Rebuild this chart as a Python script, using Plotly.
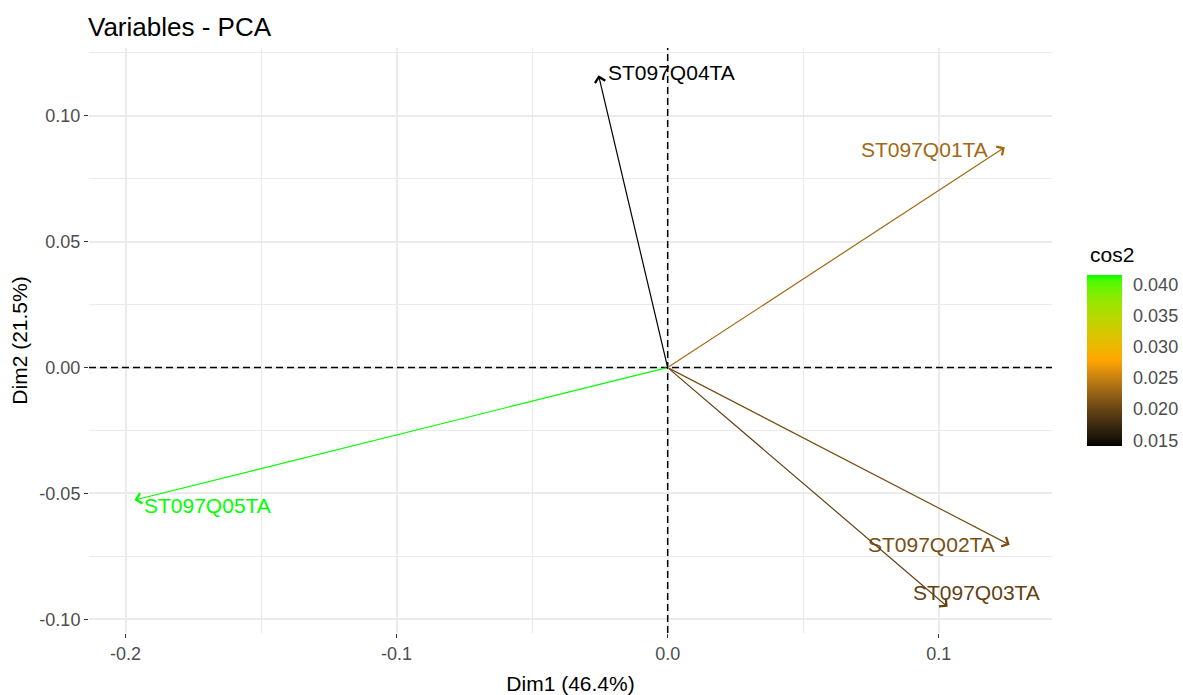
import plotly.graph_objects as go
from plotly.colors import sample_colorscale

# PCA variable coordinates on the first two dimensions
variables = ["ST097Q01TA", "ST097Q02TA", "ST097Q03TA", "ST097Q04TA", "ST097Q05TA"]
dim1 = [0.1244, 0.1262, 0.1033, -0.0255, -0.1967]
dim2 = [0.0875, -0.0704, -0.0950, 0.1161, -0.0526]
cos2 = [0.0231, 0.0209, 0.0197, 0.0141, 0.0415]

x_ticks = [-0.2, -0.1, 0.0, 0.1]
x_ticktext = ["-0.2", "-0.1", "0.0", "0.1"]
y_ticks = [-0.10, -0.05, 0.00, 0.05, 0.10]
y_ticktext = ["-0.10", "-0.05", "0.00", "0.05", "0.10"]
cb_ticks = [0.015, 0.020, 0.025, 0.030, 0.035, 0.040]
cb_ticktext = ["0.015", "0.020", "0.025", "0.030", "0.035", "0.040"]

# label placement relative to each arrow tip (anchor, px shift x, px shift y)
label_pos = {
    "ST097Q01TA": ("right", -15, -2),
    "ST097Q02TA": ("right", -13, 0),
    "ST097Q03TA": ("left", -37, 14),
    "ST097Q04TA": ("left", 7, 3),
    "ST097Q05TA": ("left", 7, -5),
}

FONT = "Arial, 'Liberation Sans', sans-serif"


# --- gradient black -> orange -> green, interpolated in CIE Lab space ---
def _srgb_to_lin(c):
    c = c / 255.0
    return c / 12.92 if c <= 0.04045 else ((c + 0.055) / 1.055) ** 2.4


def _lin_to_srgb(c):
    c = min(max(c, 0.0), 1.0)
    v = 12.92 * c if c <= 0.0031308 else 1.055 * c ** (1 / 2.4) - 0.055
    return round(v * 255)


_WHITE = (0.95047, 1.0, 1.08883)


def _f(t):
    return t ** (1 / 3) if t > (6 / 29) ** 3 else t / (3 * (6 / 29) ** 2) + 4 / 29


def _finv(t):
    return t ** 3 if t > 6 / 29 else 3 * (6 / 29) ** 2 * (t - 4 / 29)


def rgb_to_lab(rgb):
    r, g, b = (_srgb_to_lin(v) for v in rgb)
    x = 0.4124 * r + 0.3576 * g + 0.1805 * b
    y = 0.2126 * r + 0.7152 * g + 0.0722 * b
    z = 0.0193 * r + 0.1192 * g + 0.9505 * b
    fx, fy, fz = _f(x / _WHITE[0]), _f(y / _WHITE[1]), _f(z / _WHITE[2])
    return (116 * fy - 16, 500 * (fx - fy), 200 * (fy - fz))


def lab_to_rgb(lab):
    L, a, b = lab
    fy = (L + 16) / 116
    fx, fz = fy + a / 500, fy - b / 200
    x, y, z = _WHITE[0] * _finv(fx), _WHITE[1] * _finv(fy), _WHITE[2] * _finv(fz)
    r = 3.2406 * x - 1.5372 * y - 0.4986 * z
    g = -0.9689 * x + 1.8758 * y + 0.0415 * z
    bb = 0.0557 * x - 0.2040 * y + 1.0570 * z
    return tuple(_lin_to_srgb(v) for v in (r, g, bb))


anchors = [(0, 0, 0), (255, 165, 0), (0, 255, 0)]
anchor_labs = [rgb_to_lab(c) for c in anchors]
colorscale = []
n_steps = 40
for i in range(n_steps + 1):
    t = i / n_steps
    seg = 0 if t < 0.5 else 1
    u = (t - 0.5 * seg) / 0.5
    la, lb = anchor_labs[seg], anchor_labs[seg + 1]
    lab = tuple(la[k] + (lb[k] - la[k]) * u for k in range(3))
    r, g, b = lab_to_rgb(lab)
    colorscale.append([t, f"rgb({r},{g},{b})"])

cmin, cmax = min(cos2), max(cos2)
norm = [(c - cmin) / (cmax - cmin) for c in cos2]
colors = sample_colorscale(colorscale, norm)

fig = go.Figure()

# invisible trace carrying the cos2 colour bar
fig.add_trace(go.Scatter(
    x=dim1, y=dim2, mode="markers",
    marker=dict(
        size=0.1, opacity=0, color=cos2, colorscale=colorscale,
        cmin=cmin, cmax=cmax, showscale=True,
        colorbar=dict(
            tickvals=cb_ticks, ticktext=cb_ticktext,
            tickfont=dict(size=18, color="#4D4D4D", family=FONT),
            ticks="outside", ticklen=8, tickcolor="rgba(255,255,255,0)", tickwidth=1,
            thickness=35, thicknessmode="pixels",
            len=171, lenmode="pixels",
            x=1.0363, xanchor="left", xref="paper",
            y=0.4658, yanchor="middle", yref="paper",
            xpad=0, ypad=0, outlinewidth=0,
        ),
    ),
    hoverinfo="skip", showlegend=False,
))

# colour bar heading
fig.add_annotation(
    x=1.0374, y=0.6462, xref="paper", yref="paper", text="cos2", showarrow=False,
    xanchor="left", yanchor="middle", font=dict(size=21, color="#000000", family=FONT),
)

# arrows from the origin to each variable
for name, x, y, col in zip(variables, dim1, dim2, colors):
    fig.add_annotation(
        x=x, y=y, ax=0, ay=0, xref="x", yref="y", axref="x", ayref="y",
        text="", showarrow=True, arrowhead=4, arrowsize=1.7, arrowwidth=1.2,
        arrowcolor=col, standoff=0, startstandoff=0,
    )
    anchor, sx, sy = label_pos[name]
    fig.add_annotation(
        x=x, y=y, xref="x", yref="y", text=name, showarrow=False,
        xanchor=anchor, yanchor="middle", xshift=sx, yshift=sy,
        font=dict(size=21, color=col, family=FONT),
    )

# dashed reference lines through the origin
fig.add_hline(y=0, line=dict(color="#000000", width=1.5, dash="7px,4px"), layer="above")
fig.add_vline(x=0, line=dict(color="#000000", width=1.5, dash="7px,4px"), layer="above")

axis_common = dict(
    showline=False, zeroline=False,
    gridcolor="#EBEBEB", gridwidth=1.6,
    ticks="outside", ticklen=4, tickwidth=1.2, tickcolor="#333333",
    tickfont=dict(size=18, color="#4D4D4D", family=FONT),
)

fig.update_layout(
    width=1183, height=695,
    margin=dict(l=89, r=131, t=48, b=62, autoexpand=False),
    paper_bgcolor="#FFFFFF", plot_bgcolor="#FFFFFF",
    font=dict(family=FONT, color="#000000"),
    title=dict(text="Variables - PCA", xref="container", yref="container",
               x=88 / 1183, xanchor="left", y=1 - 27 / 695, yanchor="middle",
               font=dict(size=26, color="#000000", family=FONT)),
    xaxis=dict(
        range=[-0.2135, 0.1418], tickvals=x_ticks, ticktext=x_ticktext,
        title=dict(text="Dim1 (46.4%)", font=dict(size=21, color="#000000", family=FONT), standoff=14),
        minor=dict(tickvals=[-0.15, -0.05, 0.05], showgrid=True, gridcolor="#EBEBEB", gridwidth=1.1),
        **axis_common,
    ),
    yaxis=dict(
        range=[-0.1054, 0.1269], tickvals=y_ticks, ticktext=y_ticktext,
        title=dict(text="Dim2 (21.5%)", font=dict(size=21, color="#000000", family=FONT), standoff=6),
        minor=dict(tickvals=[-0.075, -0.025, 0.025, 0.075, 0.125], showgrid=True, gridcolor="#EBEBEB", gridwidth=1.1),
        **axis_common,
    ),
)

fig.write_html("out.html")
